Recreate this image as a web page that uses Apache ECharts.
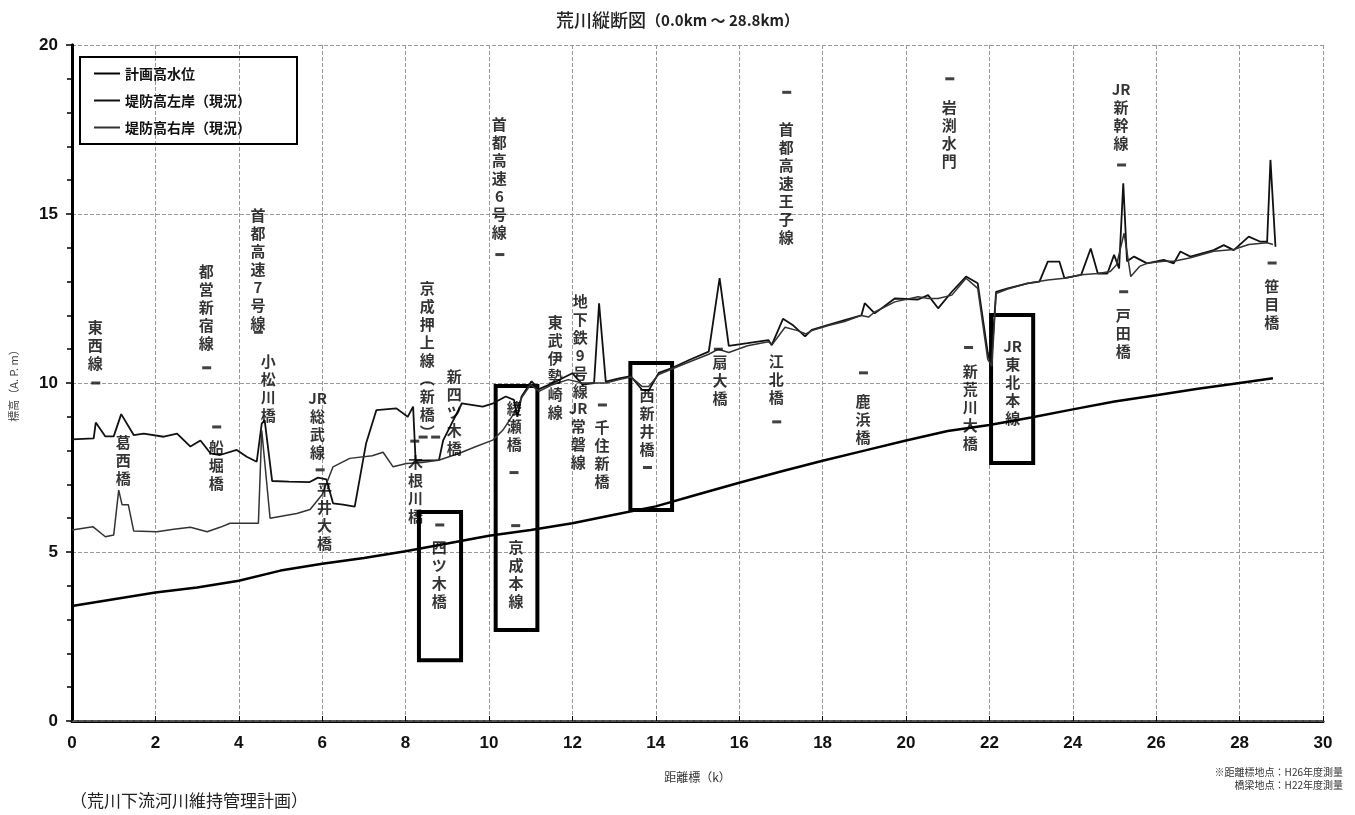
<!DOCTYPE html>
<html>
<head>
<meta charset="utf-8">
<script src="https://cdn.jsdelivr.net/npm/echarts@6/dist/echarts.min.js"></script>
<style>
  html, body { margin: 0; padding: 0; background: #fff; }
  #main { width: 1355px; height: 815px; }
</style>
</head>
<body>
<div id="main"></div>
<script>
// 計画高水位 [距離(km), 標高(A.P.m)]
const planHWL = [
  [0, 3.4], [1, 3.6], [2, 3.8], [3, 3.95], [4, 4.15], [5, 4.45], [6, 4.65], [7, 4.82],
  [8, 5.02], [9, 5.25], [10, 5.48], [11, 5.65], [12, 5.85], [13, 6.1], [14, 6.35],
  [15, 6.7], [16, 7.05], [17, 7.38], [18, 7.7], [19, 8.0], [20, 8.3], [21, 8.58],
  [22, 8.76], [23, 8.98], [24, 9.22], [25, 9.45], [26, 9.64], [27, 9.83], [28, 10.0],
  [28.8, 10.14]
]

// 堤防高左岸（現況）
const leftBank = [
  [0.0, 8.33], [0.52, 8.36], [0.57, 8.83], [0.8, 8.42], [1.0, 8.42], [1.18, 9.08],
  [1.48, 8.46], [1.72, 8.5], [2.2, 8.41], [2.52, 8.5], [2.84, 8.12], [3.08, 8.3],
  [3.32, 7.92], [3.55, 7.87], [3.95, 8.02], [4.19, 7.82], [4.43, 7.67], [4.55, 8.8],
  [4.62, 8.9], [4.8, 7.1], [5.2, 7.08], [5.7, 7.07], [5.9, 7.2], [6.1, 7.15],
  [6.26, 6.44], [6.5, 6.4], [6.78, 6.34], [7.05, 8.2], [7.3, 9.2], [7.78, 9.25],
  [8.05, 9.0], [8.18, 9.3], [8.24, 7.7], [8.8, 7.72], [8.9, 8.3], [9.35, 9.4],
  [9.85, 9.3], [10.1, 9.4], [10.4, 9.6], [10.6, 9.5], [10.68, 9.0], [10.78, 9.6],
  [11.02, 10.05], [11.2, 9.82], [11.52, 9.99], [11.76, 10.14], [12.0, 10.29],
  [12.24, 9.95], [12.52, 10.0], [12.64, 12.36], [12.8, 10.04], [13.12, 10.14],
  [13.4, 10.2], [13.67, 9.8], [13.83, 9.78], [14.07, 10.3], [14.4, 10.45],
  [14.8, 10.68], [15.27, 10.93], [15.53, 13.1], [15.75, 11.1], [16.2, 11.18],
  [16.7, 11.27], [16.78, 11.12], [17.05, 11.9], [17.3, 11.7], [17.58, 11.38],
  [17.74, 11.57], [18.14, 11.72], [18.53, 11.86], [18.93, 12.0], [19.01, 12.36],
  [19.25, 12.06], [19.73, 12.5], [20.29, 12.47], [20.53, 12.6], [20.77, 12.21],
  [21.1, 12.7], [21.44, 13.15], [21.72, 12.95], [21.96, 10.9], [22.04, 10.5],
  [22.16, 12.7], [22.44, 12.8], [22.92, 12.95], [23.2, 13.0], [23.4, 13.59],
  [23.68, 13.59], [23.8, 13.1], [24.2, 13.2], [24.43, 13.98], [24.6, 13.24],
  [24.83, 13.24], [24.99, 13.79], [25.11, 13.39], [25.21, 15.91], [25.3, 13.6],
  [25.47, 13.74], [25.78, 13.54], [26.18, 13.64], [26.42, 13.54], [26.58, 13.89],
  [26.82, 13.74], [27.38, 13.93], [27.62, 14.08], [27.86, 13.93], [28.22, 14.33],
  [28.5, 14.18], [28.66, 14.18], [28.74, 16.6], [28.86, 14.03]
]

// 堤防高右岸（現況）
const rightBank = [
  [0.0, 5.65], [0.5, 5.75], [0.8, 5.45], [1.0, 5.5], [1.12, 6.83], [1.2, 6.4],
  [1.35, 6.4], [1.48, 5.62], [2.04, 5.6], [2.44, 5.67], [2.84, 5.73], [3.24, 5.6],
  [3.55, 5.73], [3.79, 5.85], [4.47, 5.85], [4.55, 8.6], [4.75, 6.0], [5.39, 6.14],
  [5.71, 6.26], [6.0, 6.7], [6.26, 7.52], [6.66, 7.77], [7.2, 7.85], [7.46, 7.95],
  [7.7, 7.52], [8.02, 7.62], [8.4, 7.65], [8.81, 7.72], [9.29, 7.92], [9.69, 8.12],
  [10.09, 8.31], [10.33, 8.6], [10.6, 9.1], [10.8, 9.6], [11.0, 9.95], [11.2, 9.75],
  [11.52, 9.95], [11.9, 10.1], [12.24, 10.0], [12.52, 10.0], [12.8, 10.0],
  [13.12, 10.1], [13.4, 10.18], [13.67, 9.9], [13.83, 9.9], [14.07, 10.25],
  [14.4, 10.42], [14.8, 10.62], [15.27, 10.85], [15.5, 11.0], [15.75, 10.9],
  [16.2, 11.1], [16.7, 11.22], [16.8, 11.15], [17.1, 11.65], [17.4, 11.55],
  [17.6, 11.45], [17.74, 11.55], [18.14, 11.7], [18.53, 11.82], [18.93, 12.0],
  [19.1, 11.95], [19.25, 12.1], [19.73, 12.4], [20.29, 12.55], [20.53, 12.5],
  [20.77, 12.5], [21.1, 12.6], [21.44, 13.1], [21.72, 12.8], [21.96, 10.7],
  [22.06, 10.5], [22.16, 12.65], [22.44, 12.78], [22.92, 12.95], [23.4, 13.05],
  [23.8, 13.1], [24.2, 13.2], [24.6, 13.24], [24.9, 13.3], [25.05, 13.5],
  [25.23, 14.43], [25.39, 13.15], [25.6, 13.45], [25.78, 13.54], [26.18, 13.6],
  [26.42, 13.6], [26.8, 13.7], [27.38, 13.9], [27.86, 13.95], [28.22, 14.1],
  [28.66, 14.15], [28.8, 14.1]
]

// 橋梁・施設名 [距離, 文字の上端の標高, 名称]
const placeLabels = [
  [0.57, 11.9, '東西線'], [1.24, 8.5, '葛西橋'], [3.23, 13.55, '都営新宿線'],
  [3.47, 8.35, '船堀橋'], [4.47, 15.2, '首都高速7号線'], [4.72, 10.9, '小松川橋'],
  [5.9, 9.8, 'JR総武線'], [6.07, 7.1, '平井大橋'], [8.53, 13.05, '京成押上線︵新橋︶'],
  [9.18, 10.45, '新四ツ木橋'], [8.25, 7.9, '木根川橋'], [8.82, 5.4, '四ツ木橋'],
  [10.26, 17.9, '首都高速6号線'], [10.62, 9.5, '綾瀬橋'], [10.66, 5.4, '京成本線'],
  [11.6, 12.05, '東武伊勢崎線'], [12.2, 12.66, '地下鉄9号線'], [12.15, 9.5, 'JR常磐線'],
  [12.72, 8.95, '千住新橋'], [13.8, 9.9, '西新井橋'], [15.55, 10.85, '扇大橋'],
  [17.14, 17.75, '首都高速王子線'], [16.9, 10.9, '江北橋'], [18.98, 9.7, '鹿浜橋'],
  [21.05, 18.4, '岩渕水門'], [21.55, 10.6, '新荒川大橋'], [22.57, 11.35, 'JR東北本線'],
  [25.17, 18.95, 'JR新幹線'], [25.22, 12.25, '戸田橋'], [28.78, 13.1, '笹目橋']
]

// 橋梁位置の目印（短い横線）
const placeMarks = [
  [0.57, 10.0], [3.23, 10.45], [3.47, 8.7], [4.47, 11.5], [5.95, 7.43],
  [8.22, 8.28], [8.42, 8.4], [8.72, 8.4], [8.82, 5.8], [10.26, 13.8],
  [10.6, 7.35], [10.64, 5.78], [12.72, 9.35], [13.8, 7.5], [15.5, 11.0],
  [17.14, 18.6], [16.9, 8.85], [18.98, 10.3], [21.05, 19.0], [21.5, 11.05],
  [25.17, 16.45], [25.22, 12.7], [28.78, 13.55]
]

// 強調枠 [[x1, y1], [x2, y2]]
const boxes = [
  [[8.32, 1.8], [9.33, 6.18]],
  [[10.16, 2.69], [11.16, 9.91]],
  [[13.39, 6.24], [14.39, 10.59]],
  [[22.04, 7.63], [23.05, 12.01]]
]

const seriesNames = ['計画高水位', '堤防高左岸（現況）', '堤防高右岸（現況）']

const cjk = '"Noto Sans CJK JP", "Noto Sans CJK SC", sans-serif'
const num = '"Liberation Sans Narrow", "Liberation Sans", Arial, sans-serif'

// 縦書き: 英字はまとめて1行
const vert = s => s.match(/[A-Za-z]+|./g).join('\n')

const main = echarts.init(document.getElementById('main'))

const options = {
  backgroundColor: '#ffffff',
  animation: false,
  title: {
    text: '{a|荒川縦断図}{b|（0.0km ～ 28.8km）}',
    left: 'center',
    top: 6,
    textStyle: {
      rich: {
        a: { fontFamily: cjk, fontSize: 18, fontWeight: 500, color: '#222' },
        b: { fontFamily: cjk, fontSize: 15, color: '#222' }
      }
    }
  },
  legend: {
    data: seriesNames,
    orient: 'vertical',
    left: 80,
    top: 57,
    padding: [9, 46, 9, 14],
    icon: 'rect',
    itemGap: 12,
    itemWidth: 26,
    itemHeight: 2,
    borderColor: '#000',
    borderWidth: 2,
    textStyle: { fontFamily: cjk, fontSize: 14, fontWeight: 'bold', color: '#111', lineHeight: 15 }
  },
  grid: { left: 68, right: 32, top: 45, bottom: 94 },
  xAxis: [
    {
      type: 'value',
      min: 0,
      max: 30,
      interval: 2,
      name: '距離標（k）',
      nameLocation: 'middle',
      nameGap: 50,
      nameTextStyle: { fontFamily: cjk, fontSize: 12, color: '#333' },
      axisLine: { lineStyle: { color: '#000', width: 3 } },
      axisTick: { inside: true, length: 5, lineStyle: { color: '#000' } },
      axisLabel: { margin: 14, fontFamily: num, fontSize: 17, fontWeight: 'bold', color: '#111' },
      splitLine: { show: true, lineStyle: { color: '#999', type: [4, 2], width: 1 } }
    },
    {
      type: 'value',
      position: 'top',
      min: 0,
      max: 30,
      axisLine: { show: true, lineStyle: { color: '#555', width: 2, type: [5, 2] } },
      axisTick: { show: false },
      axisLabel: { show: false },
      splitLine: { show: false }
    }
  ],
  yAxis: [
    {
      type: 'value',
      min: 0,
      max: 20,
      interval: 5,
      name: '標高（A. P. m）',
      nameLocation: 'middle',
      nameGap: 53,
      nameRotate: 90,
      nameTextStyle: { fontFamily: cjk, fontSize: 11, color: '#444' },
      axisLine: { show: true, lineStyle: { color: '#000', width: 3 } },
      axisTick: { show: true, length: 6, lineStyle: { color: '#000', width: 1.5 } },
      minorTick: { show: true, splitNumber: 5, length: 5, lineStyle: { color: '#000', width: 1.5 } },
      axisLabel: { margin: 14, fontFamily: num, fontSize: 17, fontWeight: 'bold', color: '#111' },
      splitLine: { show: true, lineStyle: { color: '#999', type: [4, 2], width: 1 } }
    },
    {
      type: 'value',
      position: 'right',
      min: 0,
      max: 20,
      axisLine: { show: true, lineStyle: { color: '#000', width: 3 } },
      axisTick: { show: false },
      axisLabel: { show: false },
      splitLine: { show: false }
    }
  ],
  series: [
    {
      name: seriesNames[0],
      type: 'line',
      data: planHWL,
      symbol: 'none',
      z: 4,
      lineStyle: { color: '#000', width: 2.5 },
      itemStyle: { color: '#000' }
    },
    {
      name: seriesNames[1],
      type: 'line',
      data: leftBank,
      symbol: 'none',
      z: 3,
      lineStyle: { color: '#111', width: 1.8 },
      itemStyle: { color: '#111' }
    },
    {
      name: seriesNames[2],
      type: 'line',
      data: rightBank,
      symbol: 'none',
      z: 3,
      lineStyle: { color: '#333', width: 1.5 },
      itemStyle: { color: '#333' }
    },
    {
      type: 'scatter',
      data: placeLabels.map(d => ({ value: [d[0], d[1]], name: d[2] })),
      symbolSize: 1,
      itemStyle: { color: 'rgba(0,0,0,0)' },
      silent: true,
      z: 5,
      label: {
        show: true,
        position: [0, 0],
        align: 'center',
        verticalAlign: 'top',
        formatter: p => vert(p.name),
        fontFamily: cjk,
        fontSize: 15,
        fontWeight: 'bold',
        lineHeight: 18,
        color: '#000'
      },
      markArea: {
        silent: true,
        itemStyle: { color: 'rgba(0,0,0,0)', borderColor: '#000', borderWidth: 4 },
        data: boxes.map(b => [{ coord: b[0] }, { coord: b[1] }])
      }
    },
    {
      type: 'scatter',
      data: placeMarks,
      symbol: 'rect',
      symbolSize: [9, 3],
      silent: true,
      z: 5,
      itemStyle: { color: '#111' }
    }
  ],
  graphic: [
    {
      type: 'text',
      left: 70,
      top: 792,
      style: { text: '（荒川下流河川維持管理計画）', font: '17px ' + cjk, fill: '#222' }
    },
    {
      type: 'text',
      right: 12,
      top: 767,
      style: { text: '※距離標地点：H26年度測量', font: '10px ' + cjk, fill: '#333' }
    },
    {
      type: 'text',
      right: 12,
      top: 780,
      style: { text: '橋梁地点：H22年度測量', font: '10px ' + cjk, fill: '#333' }
    }
  ]
}

main.setOption(options)
</script>
</body>
</html>
